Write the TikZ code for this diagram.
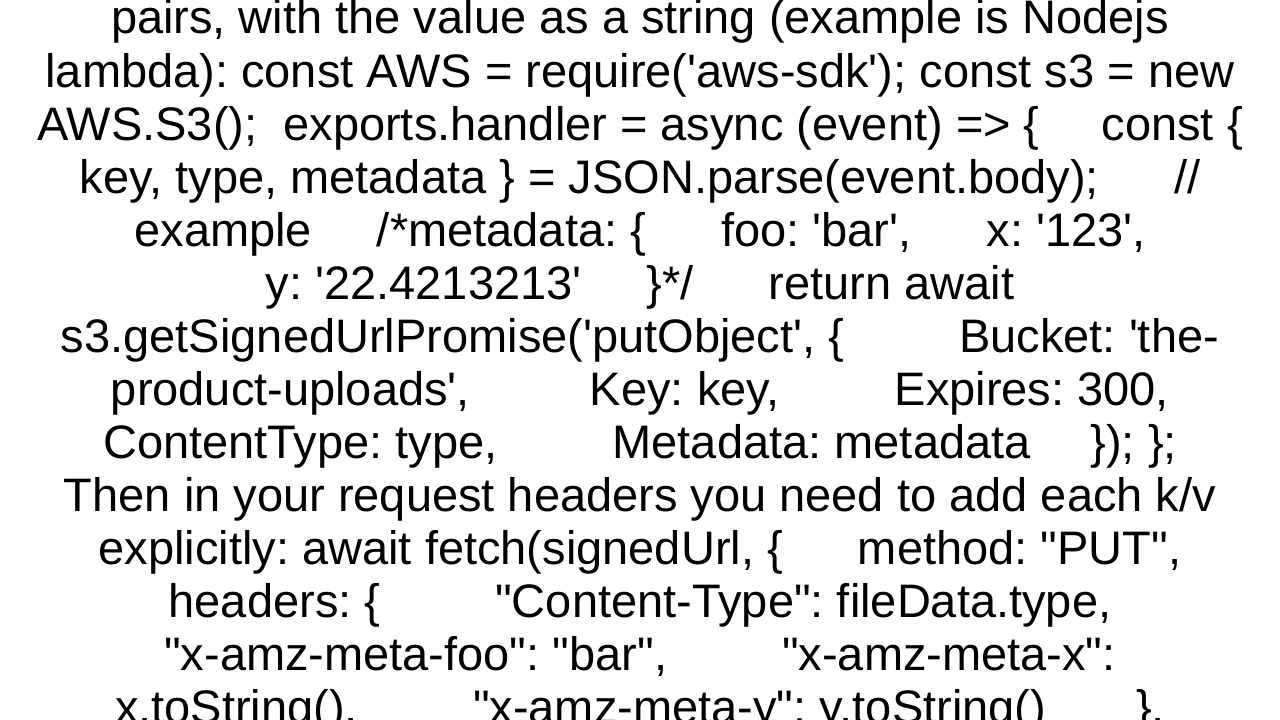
\documentclass[tikz,border=0pt]{standalone}
\usepackage{fontspec}
\newfontfamily\af{Liberation Sans}
\newcommand{\gp}[1]{\hspace*{#1pt}}
\frenchspacing
\begin{document}
\begin{tikzpicture}[x=1pt,y=-1pt,ln/.style={anchor=base,inner sep=0pt,font=\af\fontsize{47}{53}\selectfont\frenchspacing}]
\useasboundingbox (0,0) rectangle (1280,720);
\node[ln] (l1) at (640,34) {pairs, with the value as a string (example is Nodejs};
\node[ln] (l2) at (640,87) {lambda): const AWS = require('aws-sdk'); const s3 = new};
\node[ln] (l3) at (640,140) {AWS.S3();\gp{26}exports.handler = async (event) => \{\gp{62}const \{};
\node[ln] (l4) at (640,193) {key, type, metadata \} = JSON.parse(event.body);\gp{75}//};
\node[ln] (l5) at (640,246) {example\gp{65}/*metadata: \{\gp{75}foo: 'bar',\gp{75}x: '123',};
\node[ln] (l6) at (640,299) {y: '22.4213213'\gp{65}\}*/\gp{75}return await};
\node[ln] (l7) at (640,352) {s3.getSignedUrlPromise('putObject', \{\gp{115}Bucket: 'the-};
\node[ln] (l8) at (640,405) {product-uploads',\gp{120}Key: key,\gp{115}Expires: 300,};
\node[ln] (l9) at (640,458) {ContentType: type,\gp{115}Metadata: metadata\gp{60}\}); \};};
\node[ln] (l10) at (640,511) {Then in your request headers you need to add each k/v};
\node[ln] (l11) at (640,564) {explicitly: await fetch(signedUrl, \{\gp{75}method: "PUT",};
\node[ln] (l12) at (640,617) {headers: \{\gp{115}"Content-Type": fileData.type,};
\node[ln] (l13) at (640,670) {"x-amz-meta-foo": "bar",\gp{115}"x-amz-meta-x":};
\node[ln] (l14) at (640,723) {x.toString(),\gp{115}"x-amz-meta-y": y.toString()\gp{90}\},};
\end{tikzpicture}
\end{document}
